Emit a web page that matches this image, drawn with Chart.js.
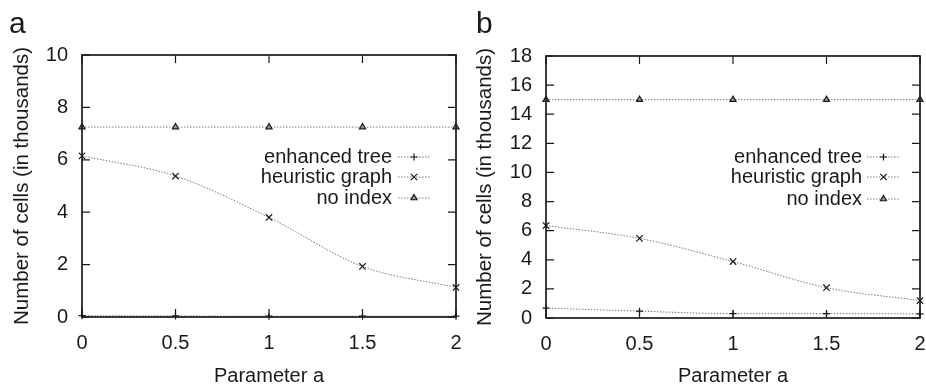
<!DOCTYPE html>
<html><head><meta charset="utf-8">
<script src="https://cdn.jsdelivr.net/npm/chart.js@4/dist/chart.umd.min.js"></script>
<style>
html,body{margin:0;padding:0;background:#fff;}
#wrap{position:relative;width:926px;height:389px;overflow:hidden;font-family:"Liberation Sans",Arial,sans-serif;}
.panel{position:absolute;top:0;width:463px;height:389px;}
.lbl{position:absolute;font-size:30px;line-height:30px;color:#1a1a1a;}
</style></head><body>
<div id="wrap">
<div class="panel" style="left:0"><canvas id="ca" width="463" height="389"></canvas></div>
<div class="panel" style="left:463px"><canvas id="cb" width="463" height="389"></canvas></div>
<div class="lbl" style="left:9px;top:8px">a</div>
<div class="lbl" style="left:476px;top:8px">b</div>
</div>
<script>
// ---- data ----
const paramA = [0, 0.5, 1, 1.5, 2];
const xTickValues = [0, 0.5, 1, 1.5, 2];
const seriesNames = ['enhanced tree', 'heuristic graph', 'no index'];
const aEnhancedTree   = [0.05, 0.04, 0.03, 0.03, 0.03];
const aHeuristicGraph = [6.15, 5.38, 3.8, 1.93, 1.13];
const aNoIndex        = [7.25, 7.25, 7.25, 7.25, 7.25];
const bEnhancedTree   = [0.68, 0.47, 0.3, 0.3, 0.28];
const bHeuristicGraph = [6.35, 5.47, 3.88, 2.08, 1.2];
const bNoIndex        = [15, 15, 15, 15, 15];
const aYTickValues = [0, 2, 4, 6, 8, 10];
const bYTickValues = [0, 2, 4, 6, 8, 10, 12, 14, 16, 18];
const xTitle = 'Parameter a';
const yTitle = 'Number of cells (in thousands)';

const FONT = '"Liberation Sans", Arial, sans-serif';
const INK = '#1a1a1a';

function pts(vals){ return paramA.map((x,i)=>({x:x, y:vals[i]})); }

const styles = [
  {pointStyle:'cross', pointRadius:3.5, pointBackgroundColor:INK},
  {pointStyle:'crossRot', pointRadius:4.5, pointBackgroundColor:INK},
  {pointStyle:'triangle', pointRadius:3.5, pointBackgroundColor:'#999'}
];

function mkDatasets(series){
  return series.map((vals,i)=>Object.assign({
    label: seriesNames[i],
    data: pts(vals),
    borderColor: '#7a7a7a',
    borderWidth: 1,
    borderDash: [1.5, 1.5],
    pointBorderColor: INK,
    pointBorderWidth: 1.2,
    cubicInterpolationMode: 'monotone',
    clip: false,
    fill: false
  }, styles[i]));
}

const framePlugin = {
  id: 'frame',
  afterDatasetsDraw(chart, args, opts){
    const ctx = chart.ctx, a = chart.chartArea;
    const xs = chart.scales.x, ys = chart.scales.y;
    ctx.save();
    ctx.strokeStyle = INK;
    ctx.lineWidth = 1.7;
    ctx.strokeRect(a.left, a.top, a.right - a.left, a.bottom - a.top);
    ctx.lineWidth = 1.2;
    const tl = 8;
    ctx.beginPath();
    xs.ticks.forEach(t=>{
      const px = xs.getPixelForValue(t.value);
      ctx.moveTo(px, a.bottom); ctx.lineTo(px, a.bottom - tl);
      ctx.moveTo(px, a.top); ctx.lineTo(px, a.top + tl);
    });
    ys.ticks.forEach(t=>{
      const py = ys.getPixelForValue(t.value);
      ctx.moveTo(a.left, py); ctx.lineTo(a.left + tl, py);
      ctx.moveTo(a.right, py); ctx.lineTo(a.right - tl, py);
    });
    ctx.stroke();
    // legend
    ctx.font = '20px ' + FONT;
    ctx.fillStyle = INK;
    ctx.textAlign = 'right';
    ctx.textBaseline = 'middle';
    chart.data.datasets.forEach((ds,i)=>{
      const y = a.top + opts.rowY[i];
      ctx.fillText(ds.label, a.right - opts.textRight, y);
      ctx.save();
      ctx.strokeStyle = ds.borderColor;
      ctx.lineWidth = ds.borderWidth;
      ctx.setLineDash(ds.borderDash);
      ctx.beginPath();
      ctx.moveTo(a.right - opts.s1, y); ctx.lineTo(a.right - opts.s2, y);
      ctx.stroke();
      ctx.restore();
      ctx.save();
      ctx.strokeStyle = ds.pointBorderColor;
      ctx.fillStyle = ds.pointBackgroundColor;
      ctx.lineWidth = ds.pointBorderWidth;
      Chart.helpers.drawPoint(ctx, {pointStyle: ds.pointStyle, radius: ds.pointRadius, rotation: 0, borderWidth: ds.pointBorderWidth}, (2*a.right - opts.s1 - opts.s2)/2, y);
      ctx.restore();
    });
    ctx.restore();
  }
};

function makeChart(id, series, yTicks, yMax, lay, legendOpts){
  return new Chart(document.getElementById(id), {
    type: 'line',
    data: { datasets: mkDatasets(series) },
    plugins: [framePlugin],
    options: {
      responsive: false,
      animation: false,
      events: [],
      layout: { padding: { left: 0, top: lay.top, right: lay.right, bottom: 0 } },
      plugins: {
        legend: { display: false },
        tooltip: { enabled: false },
        frame: legendOpts
      },
      scales: {
        x: {
          type: 'linear', min: 0, max: 2,
          afterBuildTicks: s => { s.ticks = xTickValues.map(v=>({value:v})); },
          afterFit: s => { s.height = lay.xh; s.paddingLeft = 0; s.paddingRight = 0; },
          grid: { display: false, drawTicks: false },
          border: { display: false },
          ticks: { color: INK, font: { family: FONT, size: 20 }, padding: 14, maxRotation: 0, autoSkip: false,
                   callback: v => String(v) },
          title: { display: true, text: xTitle, color: INK, font: { family: FONT, size: 20 }, padding: { top: 0, bottom: 1 } }
        },
        y: {
          type: 'linear', min: 0, max: yMax,
          afterBuildTicks: s => { s.ticks = yTicks.map(v=>({value:v})); },
          afterFit: s => { s.width = lay.yw; s.paddingTop = 0; s.paddingBottom = 0; },
          grid: { display: false, drawTicks: false },
          border: { display: false },
          ticks: { color: INK, font: { family: FONT, size: 20 }, padding: 14, autoSkip: false,
                   callback: v => String(v) },
          title: { display: true, text: yTitle, color: INK, font: { family: FONT, size: 20.5 }, padding: { top: 10, bottom: 0 } }
        }
      }
    }
  });
}

makeChart('ca', [aEnhancedTree, aHeuristicGraph, aNoIndex], aYTickValues, 10,
  { top: 55, right: 7, xh: 72, yw: 82 },
  { rowY: [102, 122, 143], textRight: 64, s1: 58, s2: 26 });
makeChart('cb', [bEnhancedTree, bHeuristicGraph, bNoIndex], bYTickValues, 18,
  { top: 56, right: 6, xh: 71, yw: 83 },
  { rowY: [101, 121, 143], textRight: 58, s1: 53, s2: 20 });
</script>
</body></html>
